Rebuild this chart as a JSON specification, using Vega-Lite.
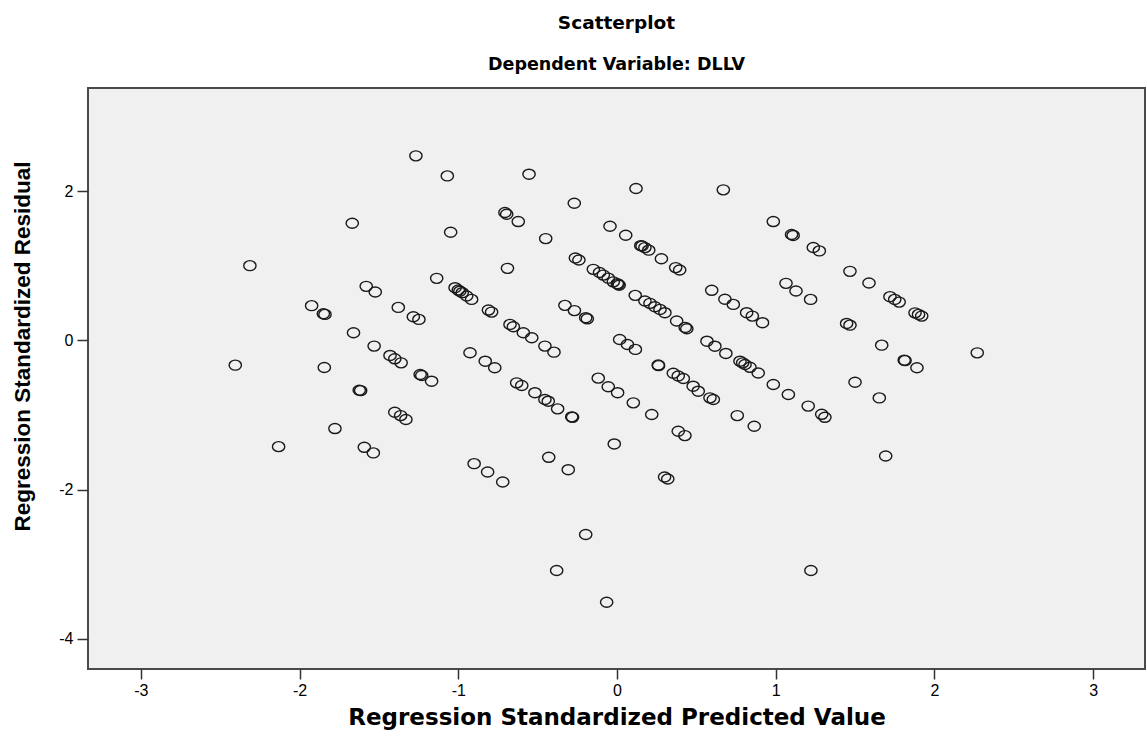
{
  "$schema": "https://vega.github.io/schema/vega-lite/v6.json",
  "autosize": "none",
  "padding": {"left": 88, "top": 88, "right": 2, "bottom": 71},
  "width": 1057,
  "height": 581,
  "background": "white",
  "config": {
    "font": "Liberation Sans",
    "view": {"fill": "#f0f0f0", "stroke": "#4a4a4a", "strokeWidth": 2}
  },
  "title": {
    "text": "Scatterplot",
    "subtitle": "Dependent Variable: DLLV",
    "anchor": "middle",
    "font": "DejaVu Sans",
    "fontSize": 18.5,
    "fontWeight": "bold",
    "color": "#000000",
    "subtitleFont": "DejaVu Sans",
    "subtitleFontSize": 17.5,
    "subtitleFontWeight": "bold",
    "subtitleColor": "#000000",
    "subtitlePadding": 23,
    "offset": 15
  },
  "data": {
    "values": [
      {"x": -1.267, "y": 2.474}, {"x": -1.069, "y": 2.205}, {"x": -1.668, "y": 1.57}, {"x": -2.313, "y": 1.002},
      {"x": -1.136, "y": 0.832}, {"x": -1.58, "y": 0.725}, {"x": -1.523, "y": 0.649}, {"x": -1.924, "y": 0.466},
      {"x": -1.85, "y": 0.358}, {"x": -1.84, "y": 0.349}, {"x": -1.378, "y": 0.443}, {"x": -1.283, "y": 0.318},
      {"x": -1.248, "y": 0.282}, {"x": -1.66, "y": 0.103}, {"x": -1.53, "y": -0.076}, {"x": -1.43, "y": -0.201},
      {"x": -1.4, "y": -0.246}, {"x": -1.36, "y": -0.3}, {"x": -1.24, "y": -0.456}, {"x": -1.23, "y": -0.47},
      {"x": -1.168, "y": -0.546}, {"x": -2.405, "y": -0.331}, {"x": -1.844, "y": -0.362}, {"x": -1.624, "y": -0.667},
      {"x": -1.615, "y": -0.672}, {"x": -1.4, "y": -0.962}, {"x": -1.363, "y": -1.007}, {"x": -1.33, "y": -1.06},
      {"x": -1.777, "y": -1.181}, {"x": -2.132, "y": -1.423}, {"x": -1.592, "y": -1.432}, {"x": -1.535, "y": -1.507},
      {"x": -0.554, "y": 2.228}, {"x": 0.12, "y": 2.036}, {"x": 0.67, "y": 2.018}, {"x": -0.269, "y": 1.839},
      {"x": -0.706, "y": 1.714}, {"x": -0.695, "y": 1.691}, {"x": -0.622, "y": 1.593}, {"x": 0.985, "y": 1.593},
      {"x": -1.048, "y": 1.45}, {"x": -0.449, "y": 1.365}, {"x": -0.044, "y": 1.53}, {"x": 0.055, "y": 1.41},
      {"x": 0.158, "y": 1.266}, {"x": 0.15, "y": 1.27}, {"x": 0.176, "y": 1.244}, {"x": 0.2, "y": 1.21},
      {"x": 0.28, "y": 1.095}, {"x": 0.37, "y": 0.976}, {"x": 0.395, "y": 0.944}, {"x": -0.69, "y": 0.966},
      {"x": -0.262, "y": 1.105}, {"x": -0.24, "y": 1.078}, {"x": -0.149, "y": 0.953}, {"x": -0.11, "y": 0.91},
      {"x": -0.086, "y": 0.876}, {"x": -0.055, "y": 0.835}, {"x": -0.023, "y": 0.785}, {"x": 0.002, "y": 0.761},
      {"x": 0.014, "y": 0.74}, {"x": 0.008, "y": 0.752}, {"x": -1.02, "y": 0.707}, {"x": -1.0, "y": 0.675},
      {"x": -0.99, "y": 0.66}, {"x": -0.975, "y": 0.64}, {"x": -0.947, "y": 0.595}, {"x": -0.916, "y": 0.55},
      {"x": -0.81, "y": 0.407}, {"x": -0.79, "y": 0.38}, {"x": -0.674, "y": 0.215}, {"x": -0.653, "y": 0.184},
      {"x": -0.59, "y": 0.103}, {"x": -0.537, "y": 0.036}, {"x": -0.454, "y": -0.076}, {"x": -0.397, "y": -0.157},
      {"x": -0.328, "y": 0.47}, {"x": -0.268, "y": 0.4}, {"x": -0.197, "y": 0.305}, {"x": -0.187, "y": 0.29},
      {"x": 0.115, "y": 0.604}, {"x": 0.176, "y": 0.528}, {"x": 0.208, "y": 0.497}, {"x": 0.239, "y": 0.452},
      {"x": 0.271, "y": 0.416}, {"x": 0.302, "y": 0.372}, {"x": 0.376, "y": 0.26}, {"x": 0.43, "y": 0.175},
      {"x": 0.44, "y": 0.157}, {"x": 0.597, "y": 0.672}, {"x": 0.68, "y": 0.552}, {"x": 0.733, "y": 0.483},
      {"x": 0.817, "y": 0.372}, {"x": 0.853, "y": 0.326}, {"x": 0.917, "y": 0.238}, {"x": -0.926, "y": -0.165},
      {"x": -0.83, "y": -0.278}, {"x": -0.77, "y": -0.366}, {"x": 0.017, "y": 0.013}, {"x": 0.066, "y": -0.054},
      {"x": 0.116, "y": -0.12}, {"x": 0.567, "y": -0.01}, {"x": 0.617, "y": -0.077}, {"x": 0.686, "y": -0.174},
      {"x": 0.26, "y": -0.33}, {"x": 0.262, "y": -0.338}, {"x": 0.355, "y": -0.44}, {"x": 0.386, "y": -0.477},
      {"x": 0.418, "y": -0.51}, {"x": 0.775, "y": -0.278}, {"x": 0.792, "y": -0.3}, {"x": 0.807, "y": -0.322},
      {"x": 0.838, "y": -0.36}, {"x": 0.89, "y": -0.436}, {"x": -0.632, "y": -0.568}, {"x": -0.6, "y": -0.604},
      {"x": -0.517, "y": -0.7}, {"x": -0.454, "y": -0.792}, {"x": -0.433, "y": -0.814}, {"x": -0.374, "y": -0.917},
      {"x": -0.285, "y": -1.024}, {"x": -0.28, "y": -1.03}, {"x": -0.118, "y": -0.505}, {"x": -0.055, "y": -0.62},
      {"x": 0.004, "y": -0.7}, {"x": 0.103, "y": -0.836}, {"x": 0.219, "y": -0.993}, {"x": 0.48, "y": -0.613},
      {"x": 0.512, "y": -0.68}, {"x": 0.586, "y": -0.769}, {"x": 0.607, "y": -0.792}, {"x": 0.985, "y": -0.59},
      {"x": 1.08, "y": -0.725}, {"x": 0.758, "y": -1.007}, {"x": 0.865, "y": -1.15}, {"x": -0.017, "y": -1.387},
      {"x": 0.386, "y": -1.217}, {"x": 0.428, "y": -1.275}, {"x": -0.9, "y": -1.651}, {"x": -0.815, "y": -1.763},
      {"x": -0.72, "y": -1.897}, {"x": -0.43, "y": -1.566}, {"x": -0.307, "y": -1.732}, {"x": 0.3, "y": -1.83},
      {"x": 0.32, "y": -1.857}, {"x": -0.197, "y": -2.6}, {"x": -0.38, "y": -3.083}, {"x": -0.065, "y": -3.508},
      {"x": 1.1, "y": 1.42}, {"x": 1.11, "y": 1.407}, {"x": 1.237, "y": 1.245}, {"x": 1.275, "y": 1.2},
      {"x": 1.468, "y": 0.926}, {"x": 1.588, "y": 0.77}, {"x": 1.72, "y": 0.587}, {"x": 1.75, "y": 0.55},
      {"x": 1.778, "y": 0.514}, {"x": 1.878, "y": 0.37}, {"x": 1.9, "y": 0.349}, {"x": 1.92, "y": 0.326},
      {"x": 1.065, "y": 0.765}, {"x": 1.128, "y": 0.662}, {"x": 1.22, "y": 0.55}, {"x": 1.447, "y": 0.228},
      {"x": 1.468, "y": 0.205}, {"x": 1.668, "y": -0.063}, {"x": 1.81, "y": -0.264}, {"x": 1.815, "y": -0.27},
      {"x": 1.89, "y": -0.366}, {"x": 2.27, "y": -0.166}, {"x": 1.5, "y": -0.56}, {"x": 1.653, "y": -0.77},
      {"x": 1.205, "y": -0.88}, {"x": 1.29, "y": -0.99}, {"x": 1.31, "y": -1.03}, {"x": 1.693, "y": -1.548},
      {"x": 1.222, "y": -3.083}
    ]
  },
  "mark": {
    "type": "point",
    "shape": "M-1.23,0A1.23,1,0,1,0,1.23,0A1.23,1,0,1,0,-1.23,0Z",
    "filled": false, "size": 100, "stroke": "#1a1a1a", "strokeWidth": 1.4, "opacity": 1
  },
  "encoding": {
    "x": {
      "field": "x", "type": "quantitative",
      "scale": {"domain": [-3.333, 3.327], "nice": false, "zero": false},
      "axis": {
        "title": "Regression Standardized Predicted Value",
        "values": [-3, -2, -1, 0, 1, 2, 3],
        "labelExpr": "datum.value < 0 ? '-' + abs(datum.value) : '' + datum.value",
        "grid": false, "domain": false,
        "tickSize": 10, "tickColor": "#333333", "tickWidth": 1.5,
        "labelFont": "Liberation Sans", "labelFontSize": 16, "labelColor": "#000000", "labelPadding": 3,
        "titleFont": "DejaVu Sans", "titleFontSize": 23, "titleFontWeight": "bold", "titleColor": "#000000",
        "titlePadding": 8
      }
    },
    "y": {
      "field": "y", "type": "quantitative",
      "scale": {"domain": [-4.403, 3.383], "nice": false, "zero": false},
      "axis": {
        "title": "Regression Standardized Residual",
        "values": [-4, -2, 0, 2],
        "labelExpr": "datum.value < 0 ? '-' + abs(datum.value) : '' + datum.value",
        "grid": false, "domain": false,
        "tickSize": 11, "tickColor": "#333333", "tickWidth": 1.5,
        "labelFont": "Liberation Sans", "labelFontSize": 16, "labelColor": "#000000", "labelPadding": 4,
        "titleFont": "Liberation Sans", "titleFontSize": 22.5, "titleFontWeight": "bold", "titleColor": "#000000",
        "titleX": -66, "titleY": 258, "titleBaseline": "middle", "titleAngle": -90, "titleAlign": "center"
      }
    }
  }
}
